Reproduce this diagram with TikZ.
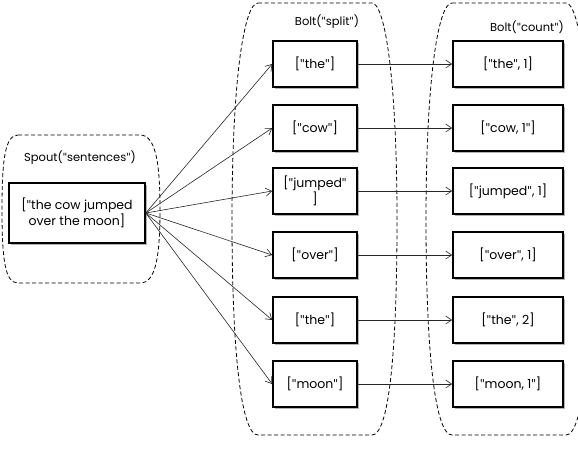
\documentclass[tikz,border=0pt]{standalone}
\usepackage{fontspec}
\setmainfont{Poppins}
\newfontfamily\quotefont{Lato}
\newcommand{\q}{{\quotefont"}}
\usetikzlibrary{arrows.meta, shadows}

\begin{document}
\begin{tikzpicture}[x=1pt, y=-1pt,
        box/.style={draw, line width=1.6pt, fill=white, align=center, inner sep=2pt,
            minimum height=46pt, font=\fontsize{12.5}{13.5}\selectfont,
            drop shadow={shadow xshift=2pt, shadow yshift=-2pt, opacity=0.6}},
        group/.style={line width=0.8pt, dash pattern=on 4pt off 2.5pt},
        title/.style={font=\fontsize{11.5}{12}\selectfont},
        flow/.style={-{Straight Barb[length=6pt,width=8pt]}, black!85, line width=0.6pt}]
        \useasboundingbox (0,0) rectangle (578,451);
        % dashed containers
        \draw[group] (18,135) -- (140,135) .. controls (155,135) and (160,160) .. (160,209)
            .. controls (160,260) and (155,283) .. (140,283) -- (18,283)
            .. controls (5,283) and (2,260) .. (2,209) .. controls (2,160) and (5,135) .. (18,135);
        \draw[group] (258,3) -- (372,3) .. controls (385,3) and (397,80) .. (397,220)
            .. controls (397,360) and (388,435) .. (372,435) -- (258,435)
            .. controls (242,435) and (232,360) .. (232,220) .. controls (232,80) and (244,3) .. (258,3);
        \draw[group] (452,3) -- (566,3) .. controls (579,3) and (591,80) .. (591,220)
            .. controls (591,360) and (582,435) .. (566,435) -- (452,435)
            .. controls (436,435) and (426,360) .. (426,220) .. controls (426,80) and (438,3) .. (452,3);
        \node[title] (spoutname) at (80,158) {Spout(\q sentences\q)};
        \node[title] (splitname) at (327,22) {Bolt(\q split\q)};
        \node[title] (countname) at (527,27) {Bolt(\q count\q)};
        % spout
        \node[box, minimum width=136pt, minimum height=60pt] (spout) at (77,213)
            {[\q the cow jumped\\over the moon]};
        % split bolts
        \node[box, minimum width=84pt] (s1) at (315,64) {[\q the\q]};
        \node[box, minimum width=84pt] (s2) at (315,128) {[\q cow\q]};
        \node[box, minimum width=84pt] (s3) at (315,191) {[\q jumped\q\\]};
        \node[box, minimum width=84pt] (s4) at (315,255) {[\q over\q]};
        \node[box, minimum width=84pt] (s5) at (315,320) {[\q the\q]};
        \node[box, minimum width=84pt] (s6) at (315,384) {[\q moon\q]};
        % count bolts
        \node[box, minimum width=110pt] (c1) at (508,64) {[\q the\q, 1]};
        \node[box, minimum width=110pt] (c2) at (508,128) {[\q cow, 1\q]};
        \node[box, minimum width=110pt] (c3) at (508,191) {[\q jumped\q, 1]};
        \node[box, minimum width=110pt] (c4) at (508,255) {[\q over\q, 1]};
        \node[box, minimum width=110pt] (c5) at (508,320) {[\q the\q, 2]};
        \node[box, minimum width=110pt] (c6) at (508,384) {[\q moon, 1\q]};
        % streams
        \draw[flow] (spout.east) -- (s1.west);
        \draw[flow] (spout.east) -- (s2.west);
        \draw[flow] (spout.east) -- (s3.west);
        \draw[flow] (spout.east) -- (s4.west);
        \draw[flow] (spout.east) -- (s5.west);
        \draw[flow] (spout.east) -- (s6.west);
        \draw[flow] (s1) -- (c1);
        \draw[flow] (s2) -- (c2);
        \draw[flow] (s3) -- (c3);
        \draw[flow] (s4) -- (c4);
        \draw[flow] (s5) -- (c5);
        \draw[flow] (s6) -- (c6);
\end{tikzpicture}
\end{document}
